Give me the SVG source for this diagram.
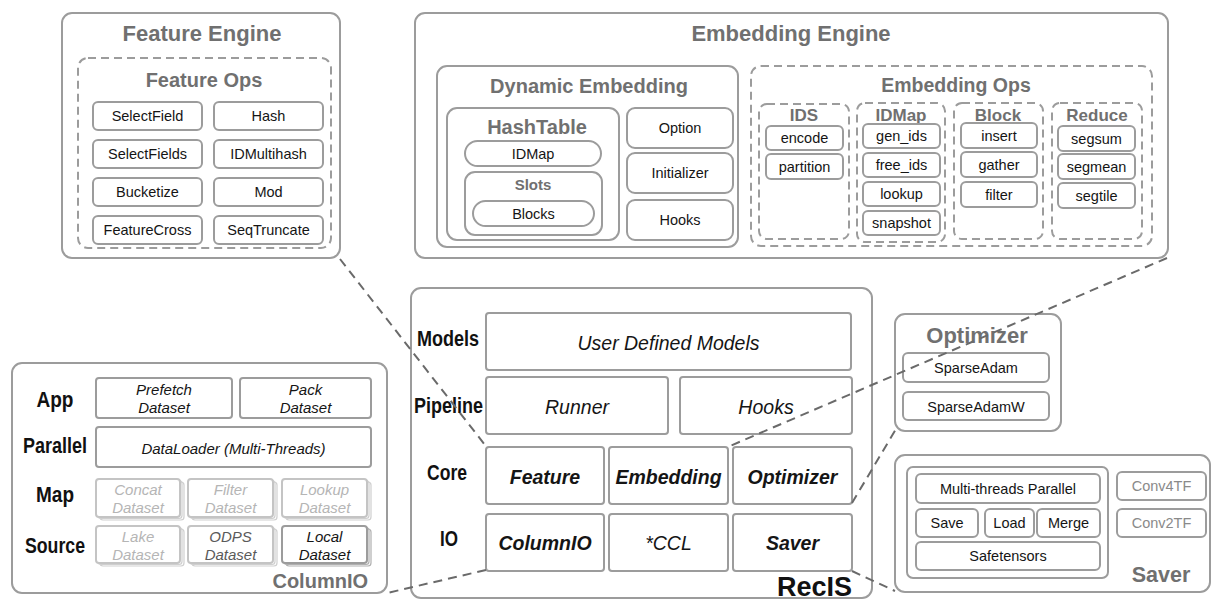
<svg xmlns="http://www.w3.org/2000/svg" width="1214" height="602" viewBox="0 0 1214 602">
<style>
.bg{fill:#fff}
.panel{fill:#fff;stroke:#9c9c9c;stroke-width:2}
.dash{fill:none;stroke:#9c9c9c;stroke-width:2;stroke-dasharray:8 5}
.item{fill:#fff;stroke:#9c9c9c;stroke-width:2}
.lite{fill:#fff;stroke:#c4c4c4;stroke-width:2}
.back{fill:#fff;stroke:#b0b0b0;stroke-width:1.2}
.backl{fill:#fff;stroke:#cfcfcf;stroke-width:1.2}
text{font-family:"Liberation Sans",Arial,Helvetica,sans-serif;text-anchor:middle;dominant-baseline:central}
.title{font-weight:bold;fill:#707070}
.lbl{font-size:14.5px;fill:#151515}
.glbl{font-size:14.5px;fill:#8a8a8a}
.row{font-weight:bold;font-size:22px;fill:#111;dominant-baseline:alphabetic}
.it{font-style:italic;font-size:15px;fill:#151515}
.core{font-style:italic;font-size:19.5px;fill:#151515}
.coreb{font-style:italic;font-weight:bold;font-size:19.5px;fill:#151515}
.conn{fill:none;stroke:#6a6a6a;stroke-width:2;stroke-dasharray:9 6}
</style>
<rect class="bg" x="0" y="0" width="1214" height="602"/>

<g id="feature-engine">
<rect class="panel" x="62" y="13" width="278" height="245" rx="10"/>
<text class="title" x="202" y="33" font-size="22">Feature Engine</text>
<g id="feature-ops">
<rect class="dash" x="78" y="58" width="253" height="190" rx="10"/>
<text class="title" x="204" y="80" font-size="20">Feature Ops</text>
<rect class="item" x="93" y="102" width="109" height="28" rx="5"/><text class="lbl" x="147.5" y="116">SelectField</text>
<rect class="item" x="214" y="102" width="109" height="28" rx="5"/><text class="lbl" x="268.5" y="116">Hash</text>
<rect class="item" x="93" y="140" width="109" height="28" rx="5"/><text class="lbl" x="147.5" y="154">SelectFields</text>
<rect class="item" x="214" y="140" width="109" height="28" rx="5"/><text class="lbl" x="268.5" y="154">IDMultihash</text>
<rect class="item" x="93" y="178" width="109" height="28" rx="5"/><text class="lbl" x="147.5" y="192">Bucketize</text>
<rect class="item" x="214" y="178" width="109" height="28" rx="5"/><text class="lbl" x="268.5" y="192">Mod</text>
<rect class="item" x="93" y="216" width="109" height="28" rx="5"/><text class="lbl" x="147.5" y="230">FeatureCross</text>
<rect class="item" x="214" y="216" width="109" height="28" rx="5"/><text class="lbl" x="268.5" y="230">SeqTruncate</text>
</g>
</g>

<g id="embedding-engine">
<rect class="panel" x="415" y="13" width="753" height="245" rx="10"/>
<text class="title" x="791" y="33" font-size="22">Embedding Engine</text>
<g id="dynamic-embedding">
<rect class="panel" x="437" y="66" width="301" height="181" rx="10"/>
<text class="title" x="589" y="86" font-size="20">Dynamic Embedding</text>
<rect class="panel" x="447" y="108" width="172" height="132" rx="10"/>
<text class="title" x="537" y="127" font-size="20">HashTable</text>
<rect class="item" x="465" y="141" width="136" height="25" rx="12.5"/><text class="lbl" x="533" y="154">IDMap</text>
<rect class="item" x="465" y="172" width="137" height="63" rx="10"/>
<text class="title" x="533" y="184" font-size="15">Slots</text>
<rect class="item" x="473" y="201" width="121" height="25" rx="12.5"/><text class="lbl" x="533.5" y="213.5">Blocks</text>
<rect class="item" x="627" y="108" width="106" height="40" rx="8"/><text class="lbl" x="680" y="128">Option</text>
<rect class="item" x="627" y="153" width="106" height="40" rx="8"/><text class="lbl" x="680" y="173">Initializer</text>
<rect class="item" x="627" y="200" width="106" height="40" rx="8"/><text class="lbl" x="680" y="220">Hooks</text>
</g>
<g id="embedding-ops">
<rect class="dash" x="751" y="66" width="401" height="180" rx="10"/>
<text class="title" x="956" y="85" font-size="19.5">Embedding Ops</text>
<rect class="dash" x="759" y="104" width="90" height="135" rx="8"/>
<text class="title" x="804" y="115" font-size="17">IDS</text>
<rect class="item" x="766" y="126" width="77" height="24" rx="5"/><text class="lbl" x="804.5" y="138">encode</text>
<rect class="item" x="766" y="154" width="77" height="25" rx="5"/><text class="lbl" x="804.5" y="166.5">partition</text>
<rect class="dash" x="857" y="103" width="88" height="139" rx="8"/>
<text class="title" x="901" y="115" font-size="17">IDMap</text>
<rect class="item" x="863" y="124" width="77" height="24" rx="5"/><text class="lbl" x="901.5" y="136">gen_ids</text>
<rect class="item" x="863" y="153" width="77" height="24" rx="5"/><text class="lbl" x="901.5" y="165">free_ids</text>
<rect class="item" x="863" y="182" width="77" height="24" rx="5"/><text class="lbl" x="901.5" y="194">lookup</text>
<rect class="item" x="863" y="211" width="77" height="24" rx="5"/><text class="lbl" x="901.5" y="223">snapshot</text>
<rect class="dash" x="954" y="103" width="89" height="136" rx="8"/>
<text class="title" x="998" y="115" font-size="17">Block</text>
<rect class="item" x="961" y="123" width="76" height="25" rx="5"/><text class="lbl" x="999" y="135.5">insert</text>
<rect class="item" x="961" y="152" width="76" height="25" rx="5"/><text class="lbl" x="999" y="164.5">gather</text>
<rect class="item" x="961" y="182" width="76" height="25" rx="5"/><text class="lbl" x="999" y="194.5">filter</text>
<rect class="dash" x="1052" y="103" width="90" height="136" rx="8"/>
<text class="title" x="1097" y="115" font-size="17">Reduce</text>
<rect class="item" x="1058" y="126" width="77" height="25" rx="5"/><text class="lbl" x="1096.5" y="138.5">segsum</text>
<rect class="item" x="1058" y="154" width="77" height="25" rx="5"/><text class="lbl" x="1096.5" y="166.5">segmean</text>
<rect class="item" x="1058" y="183" width="77" height="25" rx="5"/><text class="lbl" x="1096.5" y="195.5">segtile</text>
</g>
</g>

<g id="columnio">
<rect class="panel" x="12" y="363" width="375" height="230" rx="10"/>
<text class="row" x="55" y="407" textLength="37" lengthAdjust="spacingAndGlyphs">App</text>
<text class="row" x="55" y="453" textLength="64" lengthAdjust="spacingAndGlyphs">Parallel</text>
<text class="row" x="55" y="502" textLength="38" lengthAdjust="spacingAndGlyphs">Map</text>
<text class="row" x="55" y="553" textLength="60" lengthAdjust="spacingAndGlyphs">Source</text>
<rect class="item" x="96" y="378" width="136" height="40" rx="3"/>
<text class="it" x="164" y="389">Prefetch</text><text class="it" x="164" y="407">Dataset</text>
<rect class="item" x="240" y="378" width="131" height="40" rx="3"/>
<text class="it" x="305.5" y="389">Pack</text><text class="it" x="305.5" y="407">Dataset</text>
<rect class="item" x="96" y="427" width="275" height="40" rx="3"/>
<text class="it" x="233.5" y="448" font-size="14.5">DataLoader (Multi-Threads)</text>
<g>
<rect class="backl" x="100" y="482" width="84" height="38" rx="3"/><rect class="backl" x="98" y="480.5" width="84" height="38" rx="3"/>
<rect class="lite" x="96" y="479" width="84" height="38" rx="3"/>
<text class="it" x="138" y="489" style="fill:#b5b5b5">Concat</text><text class="it" x="138" y="507" style="fill:#b5b5b5">Dataset</text>
<rect class="backl" x="192" y="482" width="85" height="38" rx="3"/><rect class="backl" x="190" y="480.5" width="85" height="38" rx="3"/>
<rect class="lite" x="188" y="479" width="85" height="38" rx="3"/>
<text class="it" x="230.5" y="489" style="fill:#b5b5b5">Filter</text><text class="it" x="230.5" y="507" style="fill:#b5b5b5">Dataset</text>
<rect class="backl" x="286" y="482" width="85" height="38" rx="3"/><rect class="backl" x="284" y="480.5" width="85" height="38" rx="3"/>
<rect class="lite" x="282" y="479" width="85" height="38" rx="3"/>
<text class="it" x="324.5" y="489" style="fill:#b5b5b5">Lookup</text><text class="it" x="324.5" y="507" style="fill:#b5b5b5">Dataset</text>
<rect class="backl" x="100" y="529" width="84" height="37" rx="3"/><rect class="backl" x="98" y="527.5" width="84" height="37" rx="3"/>
<rect class="lite" x="96" y="526" width="84" height="37" rx="3"/>
<text class="it" x="138" y="536" style="fill:#b5b5b5">Lake</text><text class="it" x="138" y="554" style="fill:#b5b5b5">Dataset</text>
<rect class="backl" x="192" y="529" width="85" height="37" rx="3"/><rect class="backl" x="190" y="527.5" width="85" height="37" rx="3"/>
<rect class="lite" x="188" y="526" width="85" height="37" rx="3"/>
<text class="it" x="230.5" y="536" style="fill:#5a5a5a">ODPS</text><text class="it" x="230.5" y="554" style="fill:#5a5a5a">Dataset</text>
<rect class="back" x="286" y="529" width="85" height="37" rx="3"/><rect class="back" x="284" y="527.5" width="85" height="37" rx="3"/>
<rect class="item" x="282" y="526" width="85" height="37" rx="3"/>
<text class="it" x="324.5" y="536">Local</text><text class="it" x="324.5" y="554">Dataset</text>
</g>
<text class="title" x="368" y="588" font-size="20" style="text-anchor:end;dominant-baseline:alphabetic">ColumnIO</text>
</g>

<g id="recis">
<rect class="panel" x="411" y="288" width="461" height="310" rx="10"/>
<text class="row" x="448" y="346" textLength="62" lengthAdjust="spacingAndGlyphs">Models</text>
<text class="row" x="448.5" y="413" textLength="69" lengthAdjust="spacingAndGlyphs">Pipeline</text>
<text class="row" x="447" y="480" textLength="40" lengthAdjust="spacingAndGlyphs">Core</text>
<text class="row" x="449" y="546" textLength="18" lengthAdjust="spacingAndGlyphs">IO</text>
<rect class="item" x="486" y="313" width="365" height="57" rx="3"/><text class="core" x="668.5" y="343">User Defined Models</text>
<rect class="item" x="486" y="377" width="182" height="57" rx="3"/><text class="core" x="577" y="407">Runner</text>
<rect class="item" x="680" y="377" width="172" height="57" rx="3"/><text class="core" x="766" y="407">Hooks</text>
<rect class="item" x="486" y="447" width="118" height="57" rx="3"/><text class="coreb" x="545" y="477">Feature</text>
<rect class="item" x="609" y="447" width="119" height="57" rx="3"/><text class="coreb" x="668.5" y="477">Embedding</text>
<rect class="item" x="733" y="447" width="119" height="57" rx="3"/><text class="coreb" x="792.5" y="477">Optimizer</text>
<rect class="item" x="486" y="514" width="118" height="57" rx="3"/><text class="coreb" x="545" y="543">ColumnIO</text>
<rect class="item" x="609" y="514" width="119" height="57" rx="3"/><text class="core" x="668.5" y="543">*CCL</text>
<rect class="item" x="733" y="514" width="119" height="57" rx="3"/><text class="coreb" x="792.5" y="543">Saver</text>
<text x="852" y="596" font-size="27" font-weight="bold" fill="#111" style="text-anchor:end;dominant-baseline:alphabetic">RecIS</text>
</g>

<g id="optimizer">
<rect class="panel" x="895" y="314" width="166" height="117" rx="10"/>
<text class="title" x="977" y="335" font-size="22">Optimizer</text>
<rect class="item" x="903" y="353" width="146" height="29" rx="5"/><text class="lbl" x="976" y="368">SparseAdam</text>
<rect class="item" x="903" y="392" width="146" height="28" rx="5"/><text class="lbl" x="976" y="406.5">SparseAdamW</text>
</g>

<g id="saver">
<rect class="panel" x="895" y="455" width="315" height="137" rx="10"/>
<rect class="item" x="907" y="467" width="201" height="111" rx="6"/>
<rect class="item" x="916" y="474" width="184" height="29" rx="5"/><text class="lbl" x="1008" y="489">Multi-threads Parallel</text>
<rect class="item" x="916" y="509" width="62" height="28" rx="5"/><text class="lbl" x="947" y="523">Save</text>
<rect class="item" x="985" y="509" width="49" height="28" rx="5"/><text class="lbl" x="1009.5" y="523">Load</text>
<rect class="item" x="1037" y="509" width="63" height="28" rx="5"/><text class="lbl" x="1068.5" y="523">Merge</text>
<rect class="item" x="916" y="542" width="184" height="28" rx="5"/><text class="lbl" x="1008" y="556">Safetensors</text>
<rect class="item" x="1117" y="472" width="89" height="28" rx="5"/><text class="glbl" x="1161.5" y="486">Conv4TF</text>
<rect class="item" x="1117" y="509" width="89" height="28" rx="5"/><text class="glbl" x="1161.5" y="523">Conv2TF</text>
<text class="title" x="1161" y="582" font-size="21.5" style="dominant-baseline:alphabetic">Saver</text>
</g>

<g id="connectors">
<line class="conn" x1="340" y1="259" x2="485" y2="445"/>
<line class="conn" x1="1167" y1="258" x2="730" y2="446"/>
<line class="conn" x1="852" y1="503" x2="896" y2="429"/>
<line class="conn" x1="852" y1="571" x2="895" y2="591"/>
<line class="conn" x1="486" y1="570" x2="387" y2="593"/>
</g>
</svg>
